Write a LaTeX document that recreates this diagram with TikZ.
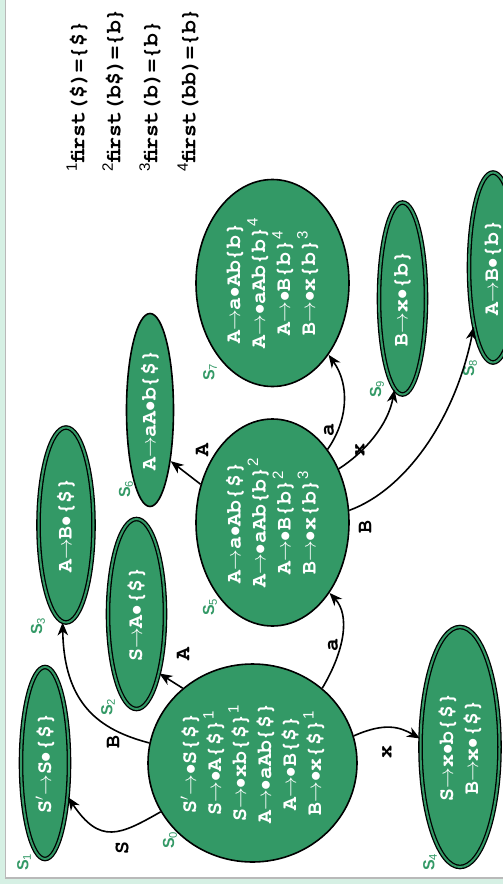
\documentclass[tikz,border=0pt]{standalone}
\usepackage{fontspec}
\setmonofont{texgyrecursor}[Extension=.otf, UprightFont=*-regular, BoldFont=*-bold,
  ItalicFont=*-italic, BoldItalicFont=*-bolditalic]
\setsansfont{Liberation Sans}
\usetikzlibrary{arrows.meta,shapes.geometric}
\definecolor{stategreen}{RGB}{51,153,102}
\definecolor{mint}{RGB}{214,240,228}
\newcommand{\fnum}[1]{\textsuperscript{\sffamily\mdseries #1}}
\newcommand{\pto}{\ensuremath{\rightarrow}}
\newcommand{\pdot}{\ensuremath{\bullet}}
\newcommand{\pprime}{\ensuremath{'}}
\tikzset{
  state/.style     = {ellipse, draw, line width=1.6pt, fill=stategreen, text=white,
                      inner sep=0pt, rotate=90, align=center,
                      font=\ttfamily\bfseries\fontsize{21.5}{25}\selectfont},
  accept/.style    = {double=stategreen, double distance=2pt, line width=1.3pt},
  trans/.style     = {-{Stealth[length=13pt,width=10.5pt,inset=4pt]}, line width=1.6pt},
  edgelab/.style   = {rotate=90, inner sep=0pt, font=\ttfamily\bfseries\fontsize{21.5}{25}\selectfont},
  statelab/.style  = {rotate=90, inner sep=0pt, text=stategreen,
                      font=\sffamily\bfseries\fontsize{16}{18}\selectfont},
  firstnote/.style = {rotate=90, anchor=west, inner sep=0pt,
                      font=\ttfamily\bfseries\fontsize{21.5}{25}\selectfont}
}

\begin{document}
\begin{tikzpicture}[x=1pt,y=1pt]
  \clip (0,0) rectangle (503,-884);
  \fill[mint] (0,0) rectangle (503,-884);
  \draw[gray!55, line width=1.5pt, fill=white] (5.5,10) rectangle (515,-878);

  % --- first sets
  \node[firstnote] (f1) at (77,-172)  {\fnum{1}first(\$)=\{\$\}};
  \node[firstnote] (f2) at (113,-172) {\fnum{2}first(b\$)=\{b\}};
  \node[firstnote] (f3) at (150,-172) {\fnum{3}first(b)=\{b\}};
  \node[firstnote] (f4) at (188,-172) {\fnum{4}first(bb)=\{b\}};

  % --- states
  \node[state, minimum width=198pt, minimum height=209pt] (s0) at (252.5,-763)
    {S\pprime\pto\pdot S\{\$\}\\ S\pto\pdot A\{\$\}\fnum{1}\\ S\pto\pdot xb\{\$\}\fnum{1}\\
     A\pto\pdot aAb\{\$\}\\ A\pto\pdot B\{\$\}\\ B\pto\pdot x\{\$\}\fnum{1}};
  \node[state, accept, minimum width=192pt, minimum height=48pt] (s1) at (45,-763)
    {S\pprime\pto S\pdot\{\$\}};
  \node[state, accept, minimum width=190pt, minimum height=57pt] (s2) at (136.5,-614)
    {S\pto A\pdot\{\$\}};
  \node[state, accept, minimum width=195pt, minimum height=55pt] (s3) at (66,-525)
    {A\pto B\pdot\{\$\}};
  \node[state, accept, minimum width=240pt, minimum height=79pt] (s4) at (460,-747)
    {S\pto x\pdot b\{\$\}\\ B\pto x\pdot\{\$\}};
  \node[state, minimum width=207pt, minimum height=153pt] (s5) at (272.5,-522.5)
    {A\pto a\pdot Ab\{\$\}\\ A\pto\pdot aAb\{b\}\fnum{2}\\ A\pto\pdot B\{b\}\fnum{2}\\ B\pto\pdot x\{b\}\fnum{3}};
  \node[state, minimum width=193pt, minimum height=47pt] (s6) at (150,-410)
    {A\pto aA\pdot b\{\$\}};
  \node[state, minimum width=207pt, minimum height=153pt] (s7) at (272.5,-283)
    {A\pto a\pdot Ab\{b\}\\ A\pto\pdot aAb\{b\}\fnum{4}\\ A\pto\pdot B\{b\}\fnum{4}\\ B\pto\pdot x\{b\}\fnum{3}};
  \node[state, accept, minimum width=190pt, minimum height=48pt] (s8) at (493,-267.5)
    {A\pto B\pdot\{b\}};
  \node[state, accept, minimum width=192pt, minimum height=47pt] (s9) at (402.5,-298.5)
    {B\pto x\pdot\{b\}};

  % --- state names
  \node[statelab] (n0) at (170,-840) {S\textsubscript{\mdseries 0}};
  \node[statelab] (n1) at (24,-862)  {S\textsubscript{\mdseries 1}};
  \node[statelab] (n2) at (108,-707) {S\textsubscript{\mdseries 2}};
  \node[statelab] (n3) at (38,-626)  {S\textsubscript{\mdseries 3}};
  \node[statelab] (n4) at (430,-862) {S\textsubscript{\mdseries 4}};
  \node[statelab] (n5) at (210,-607) {S\textsubscript{\mdseries 5}};
  \node[statelab] (n6) at (126,-489) {S\textsubscript{\mdseries 6}};
  \node[statelab] (n7) at (210,-372) {S\textsubscript{\mdseries 7}};
  \node[statelab] (n8) at (470,-368) {S\textsubscript{\mdseries 8}};
  \node[statelab] (n9) at (377,-389) {S\textsubscript{\mdseries 9}};

  % --- transitions out of s0
  \draw[trans] (s0.118) .. controls (120,-835) and (100,-845) .. (s1.214);
  \draw[trans] (s0.79) .. controls (100,-730) and (64,-705) .. (s3.178);
  \draw[trans] (s0.43) -- (s2.201);
  \draw[trans] (s0.-43) .. controls (345,-650) and (350,-615) .. (s5.219);
  \draw[trans] (s0.-75) .. controls (385,-722) and (400,-727) .. (s4.78);
  % --- transitions out of s5
  \draw[trans] (s5.62) -- (s6.202);
  \draw[trans] (s5.-37) .. controls (348,-420) and (350,-385) .. (s7.218);
  \draw[trans] (s5.-51) .. controls (365,-452) and (388,-425) .. (s9.175);
  \draw[trans] (s5.-81) .. controls (405,-490) and (455,-420) .. (s8.162);

  % --- transition labels
  \node[edgelab] (lS)  at (122,-848) {S};
  \node[edgelab] (lB)  at (113,-742) {B};
  \node[edgelab] (lA)  at (183,-654) {A};
  \node[edgelab] (la)  at (333,-645) {a};
  \node[edgelab] (lx)  at (387,-752) {x};
  \node[edgelab] (lA5) at (202,-450) {A};
  \node[edgelab] (la5) at (329,-430) {a};
  \node[edgelab] (lx5) at (360,-450) {x};
  \node[edgelab] (lB5) at (365,-527) {B};
\end{tikzpicture}
\end{document}
